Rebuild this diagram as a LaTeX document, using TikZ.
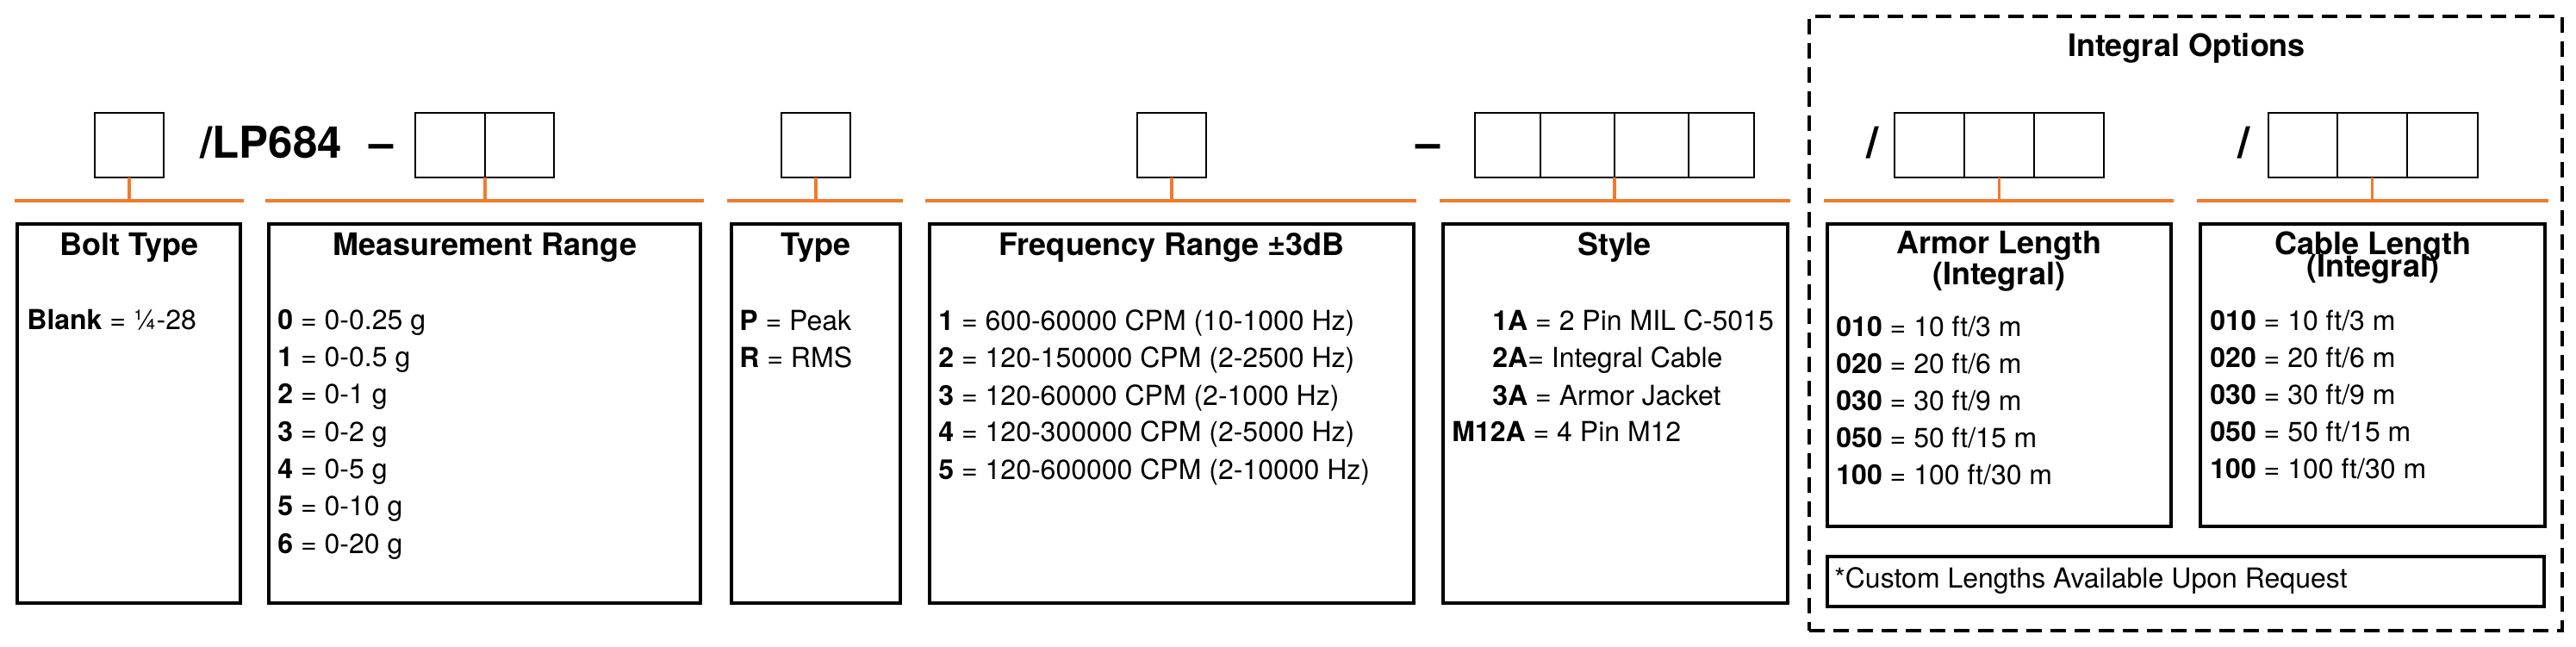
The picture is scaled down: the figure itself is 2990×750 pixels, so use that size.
\documentclass[tikz,border=0pt]{standalone}
\usepackage{fontspec}
\setmainfont{TeX Gyre Heros}
\definecolor{lporange}{RGB}{244,121,42}
\tikzset{
  cell/.style={draw=black, line width=1.15pt, anchor=north west, inner sep=0pt, outer sep=0pt, minimum height=37.5pt},
  bigbox/.style={draw=black, line width=1.7pt, anchor=north west, inner sep=0pt, outer sep=0pt},
  oline/.style={draw=lporange, line width=1.7pt},
  ttl/.style={anchor=base, inner sep=0pt, font=\fontsize{18pt}{21pt}\selectfont\bfseries},
  ent/.style={anchor=base west, inner sep=0pt, font=\fontsize{16pt}{19pt}\selectfont},
  codetext/.style={inner sep=0pt, font=\fontsize{25.5pt}{30pt}\selectfont\bfseries},
  dashbox/.style={draw=black, line width=2pt, dash pattern=on 9pt off 5pt, anchor=north west, inner sep=0pt, outer sep=0pt},
}
\begin{document}
\begin{tikzpicture}[x=0.5pt, y=-0.5pt]
\useasboundingbox (0,0) rectangle (2990,750);

% dashed integral options frame
\node[dashbox, minimum width=437pt, minimum height=356.5pt] (intg) at (2100,19) {};
\node[ttl] (intgt) at (2538,65) {Integral Options};

% code line
\node[codetext, anchor=base west] (lp) at (232,183) {/LP684};
\node[codetext, anchor=base] (dash1) at (443,183) {–};
\node[codetext, anchor=base] (dash2) at (1658,183) {–};
\node[codetext, anchor=base] (sl1) at (2174,183) {/};
\node[codetext, anchor=base] (sl2) at (2605,183) {/};

% small cells
\node[cell, minimum width=40pt] (b1) at (110,131) {};
\node[cell, minimum width=40.5pt] (m1) at (482,131) {};
\node[cell, minimum width=40pt] (m2) at (563,131) {};
\node[cell, minimum width=40pt] (t1) at (907,131) {};
\node[cell, minimum width=40pt] (f1) at (1320,131) {};
\node[cell, minimum width=38pt] (s1) at (1712,131) {};
\node[cell, minimum width=43pt] (s2) at (1788,131) {};
\node[cell, minimum width=43pt] (s3) at (1874,131) {};
\node[cell, minimum width=38pt] (s4) at (1960,131) {};
\node[cell, minimum width=40.5pt] (a1) at (2199,131) {};
\node[cell, minimum width=40.5pt] (a2) at (2280,131) {};
\node[cell, minimum width=40.5pt] (a3) at (2361,131) {};
\node[cell, minimum width=40pt] (c1) at (2633,131) {};
\node[cell, minimum width=40.5pt] (c2) at (2713,131) {};
\node[cell, minimum width=41pt] (c3) at (2794,131) {};

% orange rails
\coordinate (r1a) at (17,233);   \coordinate (r1b) at (283,233);
\coordinate (r2a) at (308,233);  \coordinate (r2b) at (817,233);
\coordinate (r3a) at (844,233);  \coordinate (r3b) at (1048,233);
\coordinate (r4a) at (1074,233); \coordinate (r4b) at (1644,233);
\coordinate (r5a) at (1671,233); \coordinate (r5b) at (2078,233);
\coordinate (r6a) at (2117,233); \coordinate (r6b) at (2523,233);
\coordinate (r7a) at (2550,233); \coordinate (r7b) at (2958,233);
\draw[oline] (r1a) -- (r1b);
\draw[oline] (r2a) -- (r2b);
\draw[oline] (r3a) -- (r3b);
\draw[oline] (r4a) -- (r4b);
\draw[oline] (r5a) -- (r5b);
\draw[oline] (r6a) -- (r6b);
\draw[oline] (r7a) -- (r7b);
\draw[oline] (b1.south) -- (b1.south |- r1a);
\draw[oline] (m1.south east) -- (m1.south east |- r2a);
\draw[oline] (t1.south) -- (t1.south |- r3a);
\draw[oline] (f1.south) -- (f1.south |- r4a);
\draw[oline] (s2.south east) -- (s2.south east |- r5a);
\draw[oline] (a2.south) -- (a2.south |- r6a);
\draw[oline] (c2.south) -- (c2.south |- r7a);

% big boxes
\node[bigbox, minimum width=129.5pt, minimum height=220pt] (boltbox) at (20,260) {};
\node[bigbox, minimum width=250.5pt, minimum height=220pt] (measbox) at (312,260) {};
\node[bigbox, minimum width=98pt, minimum height=220pt] (typebox) at (849,260) {};
\node[bigbox, minimum width=281pt, minimum height=220pt] (freqbox) at (1079,260) {};
\node[bigbox, minimum width=200pt, minimum height=220pt] (stylebox) at (1675,260) {};
\node[bigbox, minimum width=199.5pt, minimum height=175.5pt] (armorbox) at (2121,260) {};
\node[bigbox, minimum width=200pt, minimum height=175.5pt] (cablebox) at (2554,260) {};
\node[bigbox, minimum width=416pt, minimum height=29pt] (custombox) at (2121,646) {};

% titles
\node[ttl] (boltt) at (150,296) {Bolt Type};
\node[ttl] (meast) at (563,296) {Measurement Range};
\node[ttl] (typet) at (947,296) {Type};
\node[ttl] (freqt) at (1360,296) {Frequency Range ±3dB};
\node[ttl] (stylet) at (1874,296) {Style};
\node[ttl] (armort1) at (2320,294) {Armor Length};
\node[ttl] (armort2) at (2320,330) {(Integral)};
\node[ttl] (cablet1) at (2754,295) {Cable Length};
\node[ttl] (cablet2) at (2754,321) {(Integral)};

% bolt entries
\node[ent] (be1) at (31,382) {\textbf{Blank} = ¼-28};

% measurement entries
\node[ent] (me0) at (322,382) {\textbf{0} = 0-0.25 g};
\node[ent] (me1) at (322,425) {\textbf{1} = 0-0.5 g};
\node[ent] (me2) at (322,468) {\textbf{2} = 0-1 g};
\node[ent] (me3) at (322,512) {\textbf{3} = 0-2 g};
\node[ent] (me4) at (322,555) {\textbf{4} = 0-5 g};
\node[ent] (me5) at (322,598) {\textbf{5} = 0-10 g};
\node[ent] (me6) at (322,642) {\textbf{6} = 0-20 g};

% type entries
\node[ent] (te1) at (858,383) {\textbf{P} = Peak};
\node[ent] (te2) at (858,426) {\textbf{R} = RMS};

% frequency entries
\node[ent] (fe1) at (1089,383) {\textbf{1} = 600-60000 CPM (10-1000 Hz)};
\node[ent] (fe2) at (1089,426) {\textbf{2} = 120-150000 CPM (2-2500 Hz)};
\node[ent] (fe3) at (1089,470) {\textbf{3} = 120-60000 CPM (2-1000 Hz)};
\node[ent] (fe4) at (1089,512) {\textbf{4} = 120-300000 CPM (2-5000 Hz)};
\node[ent] (fe5) at (1089,556) {\textbf{5} = 120-600000 CPM (2-10000 Hz)};

% style entries
\node[ent] (se1) at (1732,383) {\textbf{1A} = 2 Pin MIL C-5015};
\node[ent] (se2) at (1732,426) {\textbf{2A}= Integral Cable};
\node[ent] (se3) at (1732,470) {\textbf{3A} = Armor Jacket};
\node[ent] (se4) at (1685,512) {\textbf{M12A} = 4 Pin M12};

% armor entries
\node[ent] (ae1) at (2131,390) {\textbf{010} = 10 ft/3 m};
\node[ent] (ae2) at (2131,433) {\textbf{020} = 20 ft/6 m};
\node[ent] (ae3) at (2131,476) {\textbf{030} = 30 ft/9 m};
\node[ent] (ae4) at (2131,519) {\textbf{050} = 50 ft/15 m};
\node[ent] (ae5) at (2131,562) {\textbf{100} = 100 ft/30 m};

% cable entries
\node[ent] (ce1) at (2565,383) {\textbf{010} = 10 ft/3 m};
\node[ent] (ce2) at (2565,426) {\textbf{020} = 20 ft/6 m};
\node[ent] (ce3) at (2565,469) {\textbf{030} = 30 ft/9 m};
\node[ent] (ce4) at (2565,512) {\textbf{050} = 50 ft/15 m};
\node[ent] (ce5) at (2565,555) {\textbf{100} = 100 ft/30 m};

% custom note
\node[ent] (cust) at (2129,682) {*Custom Lengths Available Upon Request};
\end{tikzpicture}
\end{document}
